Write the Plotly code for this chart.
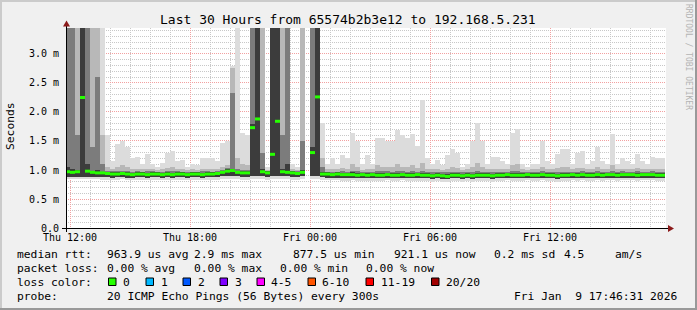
import math
from datetime import datetime, timedelta
import plotly.graph_objects as go

N = float("nan")
T = 3.6  # value above the top of the chart (clipped)

# ---------------- data (15-minute bins from Thu 2026-01-08 11:45) ----------------
bin_first = "2026-01-08 11:45"
bin_minutes = 15

median_ms = [
    0.97, 0.96, 0.97, 2.25, 0.98, 0.96, 0.95, 0.95, 0.94, 0.93,
    0.93, 0.94, 0.93, 0.92, 0.93, 0.93, 0.92, 0.93, 0.93, 0.92,
    0.93, 0.92, 0.93, 0.93, 0.92, 0.93, 0.93, 0.92, 0.93, 0.93,
    0.94, 0.96, 0.98, 0.99, 0.96, 0.95, 0.95, 1.73, 1.88, 0.97,
    0.95, 1.27, 1.84, 0.97, 0.96, 0.95, 0.94, 0.96, N, 1.30,
    2.26, 0.93, 0.93, 0.92, 0.93, 0.92, 0.92, 0.92, 0.91, 0.92,
    0.91, 0.92, 0.91, 0.91, 0.92, 0.91, 0.91, 0.92, 0.91, 0.91,
    0.92, 0.91, 0.91, 0.90, 0.91, 0.90, 0.89, 0.91, 0.91, 0.90,
    0.91, 0.90, 0.91, 0.91, 0.91, 0.90, 0.91, 0.91, 0.92, 0.91,
    0.91, 0.91, 0.92, 0.91, 0.91, 0.92, 0.91, 0.91, 0.90, 0.91,
    0.91, 0.92, 0.91, 0.92, 0.91, 0.91, 0.92, 0.91, 0.92, 0.92,
    0.91, 0.92, 0.92, 0.92, 0.91, 0.92, 0.92, 0.92, 0.91, 0.91,
]

max_ms = [
    T, T, T, T, T, T, T, T, 1.60, 1.15,
    1.45, 1.50, 1.40, 1.20, 1.22, 1.10, 1.28, 1.10, 1.05, 1.12,
    1.30, 1.33, 1.15, 1.17, 1.05, 1.10, 1.08, 1.20, 1.20, 1.20,
    1.15, 1.47, 1.50, 2.80, T, 1.64, 1.60, T, T, T,
    1.05, T, T, T, T, 1.10, 1.05, T, N, T,
    T, 1.81, 1.10, 1.20, 1.10, 1.26, 1.20, 1.64, 1.50, 1.10,
    1.25, 1.10, 1.55, 1.55, 1.50, 1.50, 1.69, 1.60, 1.56, 1.62,
    1.42, 2.20, 1.20, 1.10, 1.18, 1.08, 1.26, 1.37, 1.30, 1.05,
    1.10, 1.50, 1.81, 1.50, 1.10, 1.23, 1.23, 1.15, 1.10, 1.64,
    1.70, 1.10, 1.05, 1.10, 1.10, 1.50, 1.15, 1.10, 1.27, 1.37,
    1.37, 1.10, 1.30, 1.33, 1.10, 1.15, 1.40, 1.15, 1.10, 1.62,
    1.10, 1.20, 1.15, 1.10, 1.27, 1.15, 1.10, 1.23, 1.20, 1.21,
]

p80_ms = [
    T, T, T, T, T, T, T, 1.60, 1.06, 1.01,
    1.06, 1.08, 1.06, 1.01, 1.02, 1.01, 1.02, 1.01, 1.00, 1.01,
    1.04, 1.06, 1.01, 1.01, 1.00, 1.01, 1.00, 1.02, 1.02, 1.02,
    1.01, 1.06, 1.08, 2.75, 1.20, 1.10, 1.08, T, T, T,
    1.00, T, T, T, T, 1.01, 1.00, T, N, T,
    T, 1.20, 1.01, 1.02, 1.01, 1.04, 1.02, 1.10, 1.06, 1.00,
    1.02, 1.01, 1.08, 1.06, 1.05, 1.05, 1.10, 1.06, 1.05, 1.08,
    1.04, 1.12, 1.02, 1.01, 1.02, 1.00, 1.02, 1.05, 1.04, 1.00,
    1.01, 1.06, 1.12, 1.05, 1.01, 1.02, 1.02, 1.01, 1.01, 1.08,
    1.10, 1.01, 1.00, 1.01, 1.01, 1.05, 1.01, 1.01, 1.04, 1.05,
    1.05, 1.01, 1.04, 1.04, 1.01, 1.02, 1.05, 1.02, 1.01, 1.08,
    1.01, 1.02, 1.02, 1.01, 1.04, 1.02, 1.01, 1.02, 1.02, 1.02,
]

p60_ms = [
    T, T, 1.60, T, T, 1.40, 2.60, 1.10, 0.99, 0.98,
    0.98, 0.99, 0.98, 0.97, 0.98, 0.97, 0.98, 0.98, 0.97, 0.97,
    0.98, 0.99, 0.98, 0.97, 0.97, 0.97, 0.97, 0.98, 0.98, 0.97,
    0.98, 1.00, 1.03, 2.33, 1.01, 1.00, 1.00, T, T, 1.30,
    0.98, T, T, 1.60, T, 0.99, 0.98, 1.50, N, T,
    T, 1.06, 0.97, 0.97, 0.97, 0.98, 0.97, 0.99, 0.98, 0.96,
    0.97, 0.96, 0.98, 0.98, 0.98, 0.97, 0.98, 0.98, 0.97, 0.98,
    0.97, 0.99, 0.97, 0.96, 0.97, 0.96, 0.96, 0.97, 0.97, 0.96,
    0.97, 0.97, 0.99, 0.97, 0.97, 0.96, 0.97, 0.97, 0.97, 0.98,
    0.99, 0.97, 0.97, 0.97, 0.97, 0.98, 0.97, 0.97, 0.96, 0.97,
    0.97, 0.97, 0.97, 0.98, 0.97, 0.97, 0.98, 0.97, 0.97, 0.98,
    0.97, 0.98, 0.97, 0.97, 0.98, 0.97, 0.97, 0.98, 0.97, 0.97,
]

p40_ms = [
    1.05, 1.02, 1.00, T, 1.10, 0.98, 1.00, 0.97, 0.96, 0.96,
    0.96, 0.97, 0.96, 0.95, 0.96, 0.96, 0.95, 0.96, 0.96, 0.95,
    0.96, 0.95, 0.96, 0.96, 0.95, 0.96, 0.96, 0.95, 0.96, 0.96,
    0.97, 0.99, 1.01, 1.02, 0.99, 0.98, 0.98, 1.80, T, 1.02,
    0.98, T, T, 1.02, 1.10, 0.98, 0.97, 1.00, N, 1.40,
    T, 0.97, 0.96, 0.95, 0.96, 0.95, 0.95, 0.96, 0.94, 0.95,
    0.94, 0.95, 0.95, 0.94, 0.95, 0.94, 0.95, 0.95, 0.94, 0.94,
    0.95, 0.95, 0.94, 0.93, 0.94, 0.93, 0.93, 0.94, 0.94, 0.93,
    0.94, 0.93, 0.95, 0.94, 0.94, 0.93, 0.94, 0.94, 0.95, 0.94,
    0.94, 0.94, 0.95, 0.94, 0.94, 0.95, 0.94, 0.94, 0.93, 0.94,
    0.94, 0.95, 0.94, 0.95, 0.94, 0.94, 0.95, 0.94, 0.95, 0.95,
    0.94, 0.95, 0.95, 0.95, 0.94, 0.95, 0.95, 0.95, 0.94, 0.94,
]

low_ms = [
    0.88, 0.88, 0.88, 0.88, 0.88, 0.88, 0.88, 0.88, 0.88, 0.87,
    0.88, 0.88, 0.87, 0.87, 0.88, 0.88, 0.87, 0.88, 0.88, 0.87,
    0.88, 0.87, 0.88, 0.88, 0.87, 0.88, 0.88, 0.87, 0.88, 0.88,
    0.88, 0.89, 0.90, 0.90, 0.89, 0.88, 0.88, 0.89, 0.90, 0.89,
    0.88, 0.89, 0.90, 0.89, 0.89, 0.88, 0.88, 0.89, N, 0.90,
    0.90, 0.88, 0.87, 0.87, 0.87, 0.86, 0.86, 0.87, 0.86, 0.86,
    0.86, 0.86, 0.86, 0.86, 0.87, 0.86, 0.86, 0.87, 0.86, 0.86,
    0.86, 0.86, 0.86, 0.85, 0.86, 0.85, 0.84, 0.86, 0.86, 0.85,
    0.86, 0.85, 0.86, 0.86, 0.86, 0.85, 0.86, 0.86, 0.87, 0.86,
    0.86, 0.86, 0.87, 0.86, 0.86, 0.87, 0.86, 0.86, 0.85, 0.86,
    0.86, 0.87, 0.86, 0.87, 0.86, 0.86, 0.87, 0.86, 0.87, 0.87,
    0.86, 0.87, 0.87, 0.87, 0.86, 0.87, 0.87, 0.87, 0.86, 0.86,
]

min_ms = [
    0.84, 0.84, 0.84, 0.84, 0.84, 0.84, 0.84, 0.83, 0.83, 0.83,
    0.83, 0.84, 0.83, 0.82, 0.83, 0.83, 0.82, 0.83, 0.83, 0.82,
    0.83, 0.82, 0.83, 0.83, 0.82, 0.83, 0.83, 0.82, 0.83, 0.83,
    0.83, 0.84, 0.85, 0.85, 0.84, 0.83, 0.83, 0.84, 0.85, 0.84,
    0.83, 0.84, 0.85, 0.84, 0.84, 0.83, 0.83, 0.84, N, 0.85,
    0.85, 0.83, 0.82, 0.82, 0.82, 0.81, 0.81, 0.82, 0.81, 0.81,
    0.81, 0.81, 0.81, 0.81, 0.82, 0.81, 0.81, 0.82, 0.81, 0.81,
    0.81, 0.81, 0.81, 0.80, 0.81, 0.80, 0.79, 0.81, 0.81, 0.80,
    0.81, 0.80, 0.81, 0.81, 0.81, 0.80, 0.81, 0.81, 0.82, 0.81,
    0.81, 0.81, 0.82, 0.81, 0.81, 0.82, 0.81, 0.81, 0.80, 0.81,
    0.81, 0.82, 0.81, 0.82, 0.81, 0.81, 0.82, 0.81, 0.82, 0.82,
    0.81, 0.82, 0.82, 0.82, 0.81, 0.82, 0.82, 0.82, 0.81, 0.81,
]

x_ticks = ["2026-01-08 12:00", "2026-01-08 18:00", "2026-01-09 00:00",
           "2026-01-09 06:00", "2026-01-09 12:00"]
x_tick_labels = ["Thu 12:00", "Thu 18:00", "Fri 00:00", "Fri 06:00", "Fri 12:00"]
y_ticks = [0.0, 0.5, 1.0, 1.5, 2.0, 2.5, 3.0]
y_tick_labels = ["0.0", "0.5 m", "1.0 m", "1.5 m", "2.0 m", "2.5 m", "3.0 m"]

title = "Last 30 Hours from 65574b2b3e12 to 192.168.5.231"
legend_rows = [
    ["median rtt:", "963.9 us avg", "2.9 ms max", "877.5 us min", "921.1 us now",
     "0.2 ms sd", "4.5", "am/s"],
    ["packet loss:", "0.00 % avg", "0.00 % max", "0.00 % min", "0.00 % now"],
    ["loss color:"],
    ["probe:", "20 ICMP Echo Pings (56 Bytes) every 300s", "Fri Jan\u00a0 9 17:46:31 2026"],
]
loss_labels = ["0", "1", "2", "3", "4-5", "6-10", "11-19", "20/20"]
loss_colors = ["#26ff00", "#00b8ff", "#0059ff", "#7e00ff", "#ff00ff", "#ff5500",
               "#ff0000", "#a10000"]

# ---------------- layout helpers (pixel -> paper) ----------------
PL, PT, PW, PH = 66, 28, 600, 200


def px(x):
    return (x - PL) / PW


def py(y):
    return (PT + PH - y) / PH


FONT = "DejaVu Sans Mono"

t0 = datetime.strptime(bin_first, "%Y-%m-%d %H:%M")
step = timedelta(minutes=bin_minutes)
starts = [t0 + step * i for i in range(len(median_ms))]
centers = [s + step / 2 for s in starts]


def band(bottom, top, color):
    xs, bs, hs = [], [], []
    for c, b, t in zip(centers, bottom, top):
        if math.isnan(b) or math.isnan(t):
            continue
        xs.append(c)
        bs.append(b)
        hs.append(t - b)
    return go.Bar(x=xs, y=hs, base=bs, width=bin_minutes * 60000 * 1.04,
                  marker=dict(color=color, line=dict(width=0)),
                  hoverinfo="skip", showlegend=False)


fig = go.Figure()
fig.add_trace(band(min_ms, max_ms, "#dcdcdc"))
fig.add_trace(band(low_ms, p80_ms, "#b8b8b8"))
fig.add_trace(band(low_ms, p60_ms, "#7c7c7c"))
fig.add_trace(band(low_ms, p40_ms, "#3c3c3c"))

mx, my = [], []
for s, m in zip(starts, median_ms):
    if math.isnan(m):
        continue
    mx += [s, s + step, None]
    my += [m, m, None]
fig.add_trace(go.Scatter(x=mx, y=my, mode="lines",
                         line=dict(color=loss_colors[0], width=3),
                         hoverinfo="skip", showlegend=False))

MAJ = "#f2a0a0"
MIN = "#c8c8c8"
DASH = "1px,1px"

fig.update_layout(
    width=697, height=310,
    margin=dict(l=PL, r=697 - PL - PW, t=PT, b=310 - PT - PH),
    paper_bgcolor="#f0f0f0", plot_bgcolor="#ffffff",
    barmode="overlay", bargap=0, showlegend=False,
    font=dict(family=FONT, color="#000000"),
    xaxis=dict(
        type="date",
        range=["2026-01-08 11:48:00", "2026-01-09 17:48:00"],
        tickvals=x_ticks, ticktext=x_tick_labels,
        tickfont=dict(family=FONT, size=10, color="#000"),
        ticks="", showline=False, zeroline=False, ticklabelstandoff=2,
        showgrid=True, gridcolor=MAJ, griddash=DASH, gridwidth=1,
        minor=dict(dtick=3600000, tick0="2026-01-08 12:00", showgrid=True,
                   gridcolor=MIN, griddash=DASH, gridwidth=1),
        fixedrange=True,
    ),
    yaxis=dict(
        range=[0, 3.448],
        tickvals=y_ticks, ticktext=y_tick_labels,
        tickfont=dict(family=FONT, size=10, color="#000"),
        ticks="", showline=False, zeroline=False, ticklabelstandoff=6,
        showgrid=True, gridcolor=MAJ, griddash=DASH, gridwidth=1,
        minor=dict(dtick=0.1, showgrid=True, gridcolor=MIN, griddash=DASH,
                   gridwidth=1),
        fixedrange=True,
    ),
)

shapes = []
# 3D frame of the image
W, H = 697, 310
shapes.append(dict(type="rect", xref="paper", yref="paper", x0=px(0), x1=px(W), y0=py(0), y1=py(2),
                   fillcolor="#cbcbcb", line=dict(width=0), layer="above"))
shapes.append(dict(type="rect", xref="paper", yref="paper", x0=px(0), x1=px(2), y0=py(0), y1=py(H),
                   fillcolor="#cbcbcb", line=dict(width=0), layer="above"))
shapes.append(dict(type="rect", xref="paper", yref="paper", x0=px(0), x1=px(W), y0=py(H - 2), y1=py(H),
                   fillcolor="#999999", line=dict(width=0), layer="above"))
shapes.append(dict(type="rect", xref="paper", yref="paper", x0=px(W - 2), x1=px(W), y0=py(0), y1=py(H),
                   fillcolor="#999999", line=dict(width=0), layer="above"))
# axes with arrows
shapes.append(dict(type="line", xref="paper", yref="paper", x0=px(62), x1=px(669), y0=py(228.5), y1=py(228.5),
                   line=dict(color="#000", width=1), layer="above"))
shapes.append(dict(type="line", xref="paper", yref="paper", x0=px(66.5), x1=px(66.5), y0=py(232), y1=py(25),
                   line=dict(color="#000", width=1), layer="above"))
shapes.append(dict(type="path", xref="paper", yref="paper",
                   path=f"M {px(63)} {py(26.5)} L {px(70)} {py(26.5)} L {px(66.5)} {py(20.5)} Z",
                   fillcolor="#8b1a1a", line=dict(width=0), layer="above"))
shapes.append(dict(type="path", xref="paper", yref="paper",
                   path=f"M {px(668)} {py(225)} L {px(668)} {py(232)} L {px(674)} {py(228.5)} Z",
                   fillcolor="#8b1a1a", line=dict(width=0), layer="above"))

annotations = []


def text(x, y, s, size=11.3, color="#000", anchor="left", angle=0):
    annotations.append(dict(xref="paper", yref="paper", x=px(x), y=py(y), text=s,
                            showarrow=False, xanchor=anchor, yanchor="middle",
                            borderpad=0, textangle=angle,
                            font=dict(family=FONT, size=size, color=color)))


text(347.5, 19, title, size=13, anchor="center")
text(10, 126, "Seconds", size=11.3, anchor="center", angle=-90)
text(689, 57, "RRDTOOL / TOBI OETIKER", size=8, color="#b4b4b4", anchor="center", angle=90)

row_y = [254.5, 268.5, 282.5, 296.5]
row_x = [
    [15.5, 106, 192.5, 292, 392.5, 492.5, 562.5, 613.5],
    [15.5, 106, 192.5, 278.5, 365],
    [15.5],
    [15.5, 106, 512.5],
]
for ys, xs, items in zip(row_y, row_x, legend_rows):
    for x, s in zip(xs, items):
        text(x, ys, s)

box_x = [108, 145.5, 182.5, 219.5, 256.5, 307.5, 365.5, 431]
lab_x = [122, 159.5, 196.5, 233.5, 270, 321, 380, 445]
for bx, lx, lab, col in zip(box_x, lab_x, loss_labels, loss_colors):
    shapes.append(dict(type="rect", xref="paper", yref="paper",
                       x0=px(bx + 0.5), x1=px(bx + 8), y0=py(278), y1=py(285.5),
                       fillcolor=col, line=dict(color="#000", width=1), layer="above"))
    text(lx, row_y[2], lab)

fig.update_layout(shapes=shapes, annotations=annotations)
fig.write_html("out.html")
